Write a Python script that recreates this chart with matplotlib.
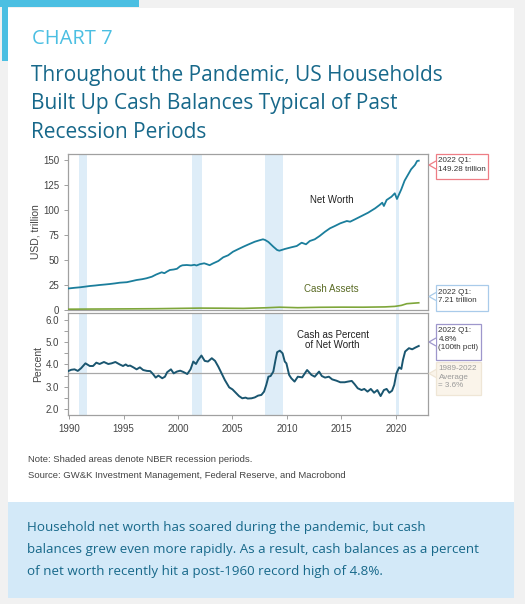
import matplotlib
matplotlib.use("Agg")
import matplotlib.pyplot as plt
from matplotlib.patches import Rectangle, Polygon

# ---- data ----
nw_years = [1989.9, 1990.5, 1991.0, 1991.5, 1991.9, 1992.4, 1992.8, 1993.3, 1993.75, 1994.2,
            1994.65, 1995.3, 1995.8, 1996.2, 1996.7, 1997.1, 1997.6, 1998.0, 1998.5, 1998.75,
            1999.0, 1999.25, 1999.6, 1999.9, 2000.2, 2000.4, 2000.8, 2001.2, 2001.5, 2001.7,
            2002.0, 2002.4, 2002.6, 2002.9, 2003.2, 2003.7, 2004.15, 2004.6, 2005.05, 2005.5,
            2006.0, 2006.45, 2007.05, 2007.5, 2007.8, 2008.0, 2008.3, 2008.75, 2009.1, 2009.3,
            2009.6, 2009.8, 2010.4, 2010.9, 2011.35, 2011.75, 2012.1, 2012.55, 2013.0, 2013.5,
            2013.95, 2014.4, 2014.9, 2015.5, 2015.8, 2016.25, 2016.85, 2017.45, 2018.1, 2018.5,
            2018.75, 2018.9, 2019.15, 2019.6, 2019.9, 2020.1, 2020.5, 2020.8, 2021.1, 2021.4,
            2021.75, 2021.95, 2022.1]
net_worth = [21.5, 22.2, 22.7, 23.4, 24.0, 24.5, 25.0, 25.5, 26.0, 26.6,
             27.3, 27.8, 29.0, 30.0, 30.8, 31.7, 33.3, 35.5, 37.7, 36.8,
             38.5, 40.0, 40.5, 41.2, 43.8, 44.7, 45.0, 44.6, 45.2, 44.5,
             45.8, 46.7, 46.0, 44.8, 46.5, 49.0, 52.7, 54.7, 58.3, 60.7,
             63.3, 65.5, 68.3, 69.8, 70.7, 70.0, 68.0, 63.3, 60.0, 59.3,
             60.3, 61.0, 62.7, 64.0, 67.3, 65.7, 69.0, 70.7, 74.0, 78.3,
             81.7, 84.0, 86.7, 89.0, 88.3, 90.7, 94.0, 97.3, 101.7, 105.0,
             107.3, 104.0, 110.0, 113.3, 116.7, 111.0, 120.7, 129.3, 135.0, 140.7,
             145.0, 149.0, 149.3]

cash_years = [1989.9, 1992.0, 1995.0, 1998.0, 2000.0, 2002.0, 2004.0, 2006.0, 2008.0, 2009.3,
              2011.0, 2013.0, 2015.0, 2017.0, 2019.0, 2019.9, 2020.5, 2021.0, 2021.6, 2022.1]
cash_assets = [0.8, 0.95, 1.1, 1.3, 1.6, 1.9, 1.8, 1.6, 2.2, 2.8,
               2.3, 2.7, 2.85, 2.8, 3.1, 3.6, 4.6, 6.3, 6.8, 7.21]

pct_years = [1989.9, 1990.2, 1990.5, 1990.8, 1991.1, 1991.5, 1991.9, 1992.2, 1992.5, 1992.8,
             1993.2, 1993.6, 1993.9, 1994.25, 1994.65, 1994.95, 1995.2, 1995.4, 1995.6, 1995.9,
             1996.2, 1996.5, 1996.8, 1997.15, 1997.45, 1997.7, 1997.95, 1998.2, 1998.55, 1998.8,
             1999.0, 1999.35, 1999.6, 1999.9, 2000.2, 2000.5, 2000.85, 2001.15, 2001.4, 2001.65,
             2001.85, 2002.15, 2002.45, 2002.75, 2003.1, 2003.4, 2003.7, 2004.0, 2004.3, 2004.7,
             2005.0, 2005.3, 2005.6, 2005.9, 2006.2, 2006.4, 2006.75, 2007.05, 2007.35, 2007.65,
             2007.9, 2008.1, 2008.3, 2008.5, 2008.75, 2008.95, 2009.1, 2009.35, 2009.6, 2009.8,
             2009.95, 2010.2, 2010.4, 2010.7, 2011.0, 2011.4, 2011.85, 2012.25, 2012.55, 2012.95,
             2013.2, 2013.5, 2013.85, 2014.15, 2014.55, 2014.9, 2015.3, 2015.6, 2015.95, 2016.2,
             2016.5, 2016.85, 2017.1, 2017.4, 2017.7, 2018.0, 2018.3, 2018.6, 2018.9, 2019.15,
             2019.4, 2019.65, 2019.85, 2020.05, 2020.3, 2020.5, 2020.65, 2020.85, 2021.2, 2021.5,
             2021.8, 2022.1]
cash_pct = [3.70, 3.76, 3.78, 3.71, 3.83, 4.05, 3.93, 3.93, 4.08, 4.02,
            4.11, 4.02, 4.05, 4.11, 4.00, 3.93, 4.00, 3.93, 3.95, 3.87,
            3.78, 3.87, 3.75, 3.71, 3.70, 3.57, 3.41, 3.50, 3.38, 3.45,
            3.65, 3.78, 3.60, 3.68, 3.72, 3.66, 3.57, 3.78, 4.13, 4.02,
            4.20, 4.40, 4.16, 4.13, 4.28, 4.16, 3.90, 3.60, 3.30, 2.97,
            2.88, 2.73, 2.58, 2.48, 2.51, 2.47, 2.48, 2.52, 2.60, 2.63,
            2.78, 3.08, 3.45, 3.48, 3.68, 4.20, 4.55, 4.62, 4.50, 4.13,
            4.05, 3.53, 3.38, 3.23, 3.45, 3.42, 3.75, 3.53, 3.45, 3.68,
            3.48, 3.41, 3.45, 3.33, 3.27, 3.20, 3.20, 3.23, 3.26, 3.12,
            2.93, 2.85, 2.90, 2.78, 2.90, 2.73, 2.85, 2.58, 2.85, 2.90,
            2.73, 2.82, 3.08, 3.60, 3.87, 3.80, 4.20, 4.58, 4.73, 4.68,
            4.76, 4.83]
pct_average = 3.6

recessions = [(1990.9, 1991.6), (2001.25, 2002.2), (2007.95, 2009.6), (2020.05, 2020.27)]

W, H = 525, 604
fig = plt.figure(figsize=(W / 100, H / 100), dpi=100)
fig.patch.set_facecolor("#f1f1f1")


def fr(x, y):
    # pixel (top-left origin) -> figure fraction
    return x / W, 1 - y / H


def rect(x0, y0, x1, y1, zorder=-5, **kw):
    fig.patches.append(Rectangle(fr(x0, y1), (x1 - x0) / W, (y1 - y0) / H,
                                 transform=fig.transFigure, zorder=zorder, **kw))


def axes_px(x0, y0, x1, y1):
    return fig.add_axes([x0 / W, 1 - y1 / H, (x1 - x0) / W, (y1 - y0) / H])


# card, accent bars, takeaway box
rect(8, 8, 514, 502, facecolor="white", edgecolor="none")
rect(0, 0, 139, 7, facecolor="#4bbfe2", edgecolor="none")
rect(2, 0, 8, 61, facecolor="#4bbfe2", edgecolor="none")
rect(8, 502, 514, 598, facecolor="#d3e9f8", edgecolor="none")

teal = "#17688a"
fig.text(*fr(32, 39), "CHART 7", color="#4bbfe2", fontsize=14.5, family="Open Sans",
         va="center", ha="left")
for i, line in enumerate(["Throughout the Pandemic, US Households",
                          "Built Up Cash Balances Typical of Past",
                          "Recession Periods"]):
    fig.text(*fr(31, 76 + 28 * i), line, color=teal, fontsize=15, family="Open Sans",
             va="center", ha="left")

chart_font = "Liberation Sans"
grid_col = "#a0a0a0"
tick_col = "#444444"

ax1 = axes_px(68, 154, 428, 310)
ax2 = axes_px(68, 313, 428, 415)

for ax in (ax1, ax2):
    for a, b in recessions:
        ax.axvspan(a, b, color="#deedf8", lw=0, zorder=0)
    ax.set_xlim(1989.9, 2022.95)
    for s in ax.spines.values():
        s.set_color(grid_col)
        s.set_linewidth(0.9)
    ax.tick_params(colors=tick_col, labelsize=7, length=3, width=0.7, color=grid_col)

ax1.plot(nw_years, net_worth, color="#1b7e9c", lw=1.3, zorder=3)
ax1.plot(cash_years, cash_assets, color="#7ea63a", lw=1.2, zorder=3)
ax1.set_ylim(0, 156)
ax1.set_yticks([0, 25, 50, 75, 100, 125, 150])
ax1.set_xticks([])
ax1.set_ylabel("USD, trillion", fontsize=7.5, color=tick_col, family=chart_font, labelpad=2)
ax1.text(2014.1, 110, "Net Worth", fontsize=7, family=chart_font, color="#222222",
         ha="center", va="center")
ax1.text(2014.1, 20.5, "Cash Assets", fontsize=7, family=chart_font, color="#5a6b25",
         ha="center", va="center")

ax2.plot(pct_years, cash_pct, color="#1a5670", lw=1.4, zorder=3)
ax2.axhline(pct_average, color="#a8a8a8", lw=0.9, zorder=2)
ax2.set_ylim(1.73, 6.31)
ax2.set_yticks([2.0, 3.0, 4.0, 5.0, 6.0])
ax2.set_yticks([2.5, 3.5, 4.5, 5.5], minor=True)
ax2.yaxis.set_major_formatter(matplotlib.ticker.FormatStrFormatter("%.1f"))
ax2.tick_params(axis="y", which="minor", length=3, width=0.7, color=grid_col)
ax2.set_xticks([1990, 1995, 2000, 2005, 2010, 2015, 2020])
ax2.set_ylabel("Percent", fontsize=7.5, color=tick_col, family=chart_font, labelpad=2)
ax2.text(2014.2, 5.1, "Cash as Percent\nof Net Worth", fontsize=7, family=chart_font,
         color="#222222", ha="center", va="center", linespacing=1.0)
for lab in ax2.get_xticklabels() + ax2.get_yticklabels() + ax1.get_yticklabels():
    lab.set_family(chart_font)


def callout(x0, y0, x1, y1, tip_y, text, ec, fc="white", tc="#333333"):
    rect(x0, y0, x1, y1, zorder=5, facecolor=fc, edgecolor=ec, linewidth=0.9)
    tri = Polygon([fr(x0 + 0.5, tip_y - 4), fr(429, tip_y), fr(x0 + 0.5, tip_y + 4)],
                  closed=False, transform=fig.transFigure, facecolor=fc, edgecolor=ec,
                  linewidth=0.9, zorder=6)
    fig.patches.append(tri)
    fig.text(*fr(x0 + 3, y0 + 3.5), text, fontsize=5.8, family=chart_font, color=tc,
             ha="left", va="top", linespacing=1.25, zorder=7)


callout(435.5, 154, 488, 179, 165, "2022 Q1:\n149.28 trillion", "#ee7d85")
callout(435.5, 285, 488, 310.5, 296.5, "2022 Q1:\n7.21 trillion", "#a9cbea")
callout(435.5, 324, 481, 360, 342, "2022 Q1:\n4.8%\n(100th pctl)", "#9e97cc")
callout(435.5, 362, 481, 395, 373.5, "1989-2022\nAverage\n= 3.6%", "#efe6d6",
        fc="#faf4ea", tc="#9a9a9a")

fig.text(*fr(28, 459), "Note: Shaded areas denote NBER recession periods.", fontsize=6.8,
         family=chart_font, color="#444444", va="center")
fig.text(*fr(28, 476), "Source: GW&K Investment Management, Federal Reserve, and Macrobond",
         fontsize=6.8, family=chart_font, color="#444444", va="center")

for i, line in enumerate(["Household net worth has soared during the pandemic, but cash",
                          "balances grew even more rapidly. As a result, cash balances as a percent",
                          "of net worth recently hit a post-1960 record high of 4.8%."]):
    fig.text(*fr(27, 527 + 22.5 * i), line, color=teal, fontsize=9.6, family="Open Sans",
             va="center", ha="left")

fig.savefig("out.png", dpi=100)
